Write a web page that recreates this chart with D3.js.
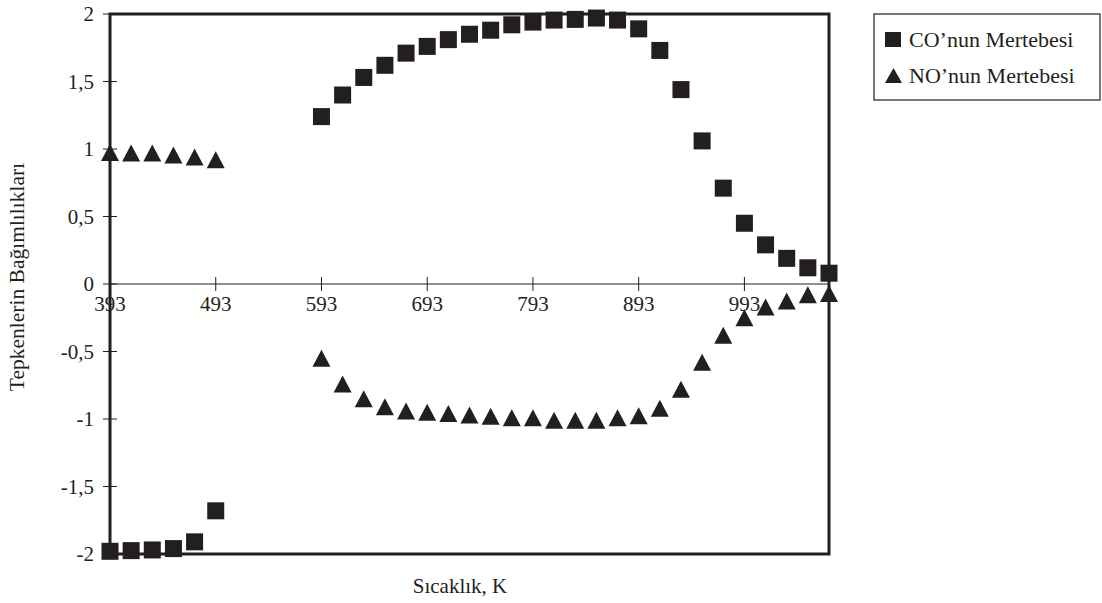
<!DOCTYPE html>
<html><head><meta charset="utf-8">
<script src="https://cdn.jsdelivr.net/npm/d3@7"></script>
<style>body{margin:0;background:#fff}svg{display:block}text{font-family:"Liberation Serif","Times New Roman",serif;fill:#231f20}</style>
</head><body><svg id="c" width="1102" height="603"></svg>
<script>
const temps = [393,413,433,453,473,493,593,613,633,653,673,693,713,733,753,773,793,813,833,853,873,893,913,933,953,973,993,1013,1033,1053,1073];
const coValues = [-1.98,-1.975,-1.97,-1.96,-1.91,-1.68,1.24,1.40,1.53,1.62,1.71,1.76,1.81,1.85,1.88,1.92,1.94,1.955,1.96,1.97,1.955,1.89,1.73,1.44,1.06,0.71,0.45,0.29,0.19,0.12,0.08];
const noValues = [0.975,0.97,0.97,0.955,0.94,0.92,-0.55,-0.74,-0.85,-0.91,-0.94,-0.95,-0.96,-0.97,-0.98,-0.99,-0.99,-1.01,-1.01,-1.01,-0.99,-0.975,-0.92,-0.78,-0.58,-0.38,-0.25,-0.17,-0.125,-0.08,-0.07];
const xTicks = [393,493,593,693,793,893,993];
const yTicks = [-2,-1.5,-1,-0.5,0,0.5,1,1.5,2];
const seriesNames = ["CO’nun Mertebesi","NO’nun Mertebesi"];
const xTitle = "Sıcaklık, K";
const yTitle = "Tepkenlerin Bağımlılıkları";

const ink = "#231f20";
const svg = d3.select("#c");
const L=110,R=829,T=14,B=554;
const x = d3.scaleLinear().domain([393,1073]).range([L,R]);
const y = d3.scaleLinear().domain([-2,2]).range([B,T]);
const fmt = v => String(v).replace(".",",");

// y tick marks + labels
const yt = svg.append("g");
yTicks.forEach(v=>{
  yt.append("line").attr("x1",L-7).attr("x2",L+7).attr("y1",y(v)).attr("y2",y(v)).attr("stroke",ink).attr("stroke-width",1);
  yt.append("text").attr("x",94).attr("y",y(v)).attr("dy","0.35em").attr("text-anchor","end").attr("font-size",21).text(fmt(v));
});
// x axis at zero
svg.append("line").attr("x1",L).attr("x2",R).attr("y1",y(0)).attr("y2",y(0)).attr("stroke",ink).attr("stroke-width",1.2);
xTicks.forEach(v=>{
  svg.append("line").attr("x1",x(v)).attr("x2",x(v)).attr("y1",y(0)-7).attr("y2",y(0)+7).attr("stroke",ink).attr("stroke-width",1);
  svg.append("text").attr("x",x(v)).attr("y",y(0)+27).attr("text-anchor","middle").attr("font-size",21).text(v);
});
// plot box
svg.append("rect").attr("x",L).attr("y",T).attr("width",R-L).attr("height",B-T).attr("fill","none").attr("stroke",ink).attr("stroke-width",3);

// markers
const sq = 17;
svg.append("g").selectAll("rect").data(temps.map((t,i)=>[t,coValues[i]])).join("rect")
  .attr("x",d=>x(d[0])-sq/2).attr("y",d=>y(d[1])-sq/2).attr("width",sq).attr("height",sq).attr("fill",ink);
const tri = (cx,cy,w,h)=>`M${cx},${cy-h/2}L${cx+w/2},${cy+h/2}L${cx-w/2},${cy+h/2}Z`;
svg.append("g").selectAll("path").data(temps.map((t,i)=>[t,noValues[i]])).join("path")
  .attr("d",d=>tri(x(d[0]),y(d[1]),18,17)).attr("fill",ink);

// titles
svg.append("text").attr("x",460).attr("y",593).attr("text-anchor","middle").attr("font-size",21).text(xTitle);
svg.append("text").attr("transform","translate(24,277) rotate(-90)").attr("text-anchor","middle").attr("font-size",21.5).text(yTitle);

// legend
svg.append("rect").attr("x",874).attr("y",14).attr("width",226).attr("height",86).attr("fill","none").attr("stroke",ink).attr("stroke-width",1.2);
svg.append("rect").attr("x",885).attr("y",32).attr("width",16).attr("height",15).attr("fill",ink);
svg.append("path").attr("d",tri(893.5,75.5,17,15)).attr("fill",ink);
svg.append("text").attr("x",909).attr("y",47).attr("font-size",22).text(seriesNames[0]);
svg.append("text").attr("x",909).attr("y",83).attr("font-size",22).text(seriesNames[1]);
</script></body></html>
